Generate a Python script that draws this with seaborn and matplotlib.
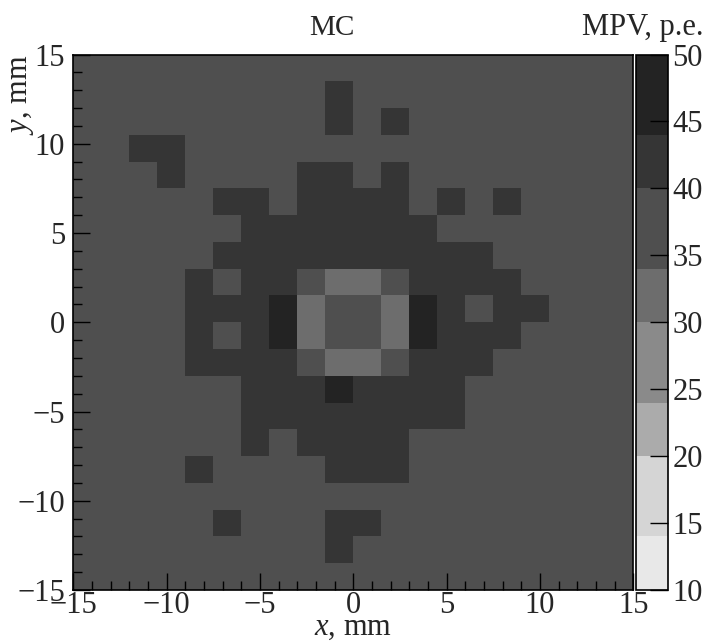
import numpy as np
import matplotlib
matplotlib.use("Agg")
import matplotlib.pyplot as plt
from matplotlib.colors import ListedColormap, BoundaryNorm
from matplotlib.ticker import FixedLocator
import seaborn as sns

# ---- data -------------------------------------------------------------
x_edges_mm = [-15.0, 15.0]          # axis range (20 bins of 1.5 mm)
y_edges_mm = [-15.0, 15.0]
n_bins = 20

bg = 37      # background MPV level
dk = 42      # dark cells
dd = 47      # darkest cells
lt = 32      # light cells

# (row index from top, list of (column, value)) for non-background cells
cells_row = {
    1: [(9, dk)],
    2: [(9, dk), (11, dk)],
    3: [(2, dk), (3, dk)],
    4: [(3, dk), (8, dk), (9, dk), (11, dk)],
    5: [(5, dk), (6, dk), (8, dk), (9, dk), (10, dk), (11, dk), (13, dk), (15, dk)],
    6: [(c, dk) for c in range(6, 13)],
    7: [(c, dk) for c in range(5, 15)],
    8: [(4, dk), (6, dk), (7, dk), (9, lt), (10, lt), (12, dk), (13, dk), (14, dk), (15, dk)],
    9: [(4, dk), (5, dk), (6, dk), (7, dd), (8, lt), (11, lt), (12, dd), (13, dk), (15, dk), (16, dk)],
    10: [(4, dk), (6, dk), (7, dd), (8, lt), (11, lt), (12, dd), (13, dk), (14, dk), (15, dk)],
    11: [(4, dk), (5, dk), (6, dk), (7, dk), (9, lt), (10, lt), (12, dk), (13, dk), (14, dk)],
    12: [(6, dk), (7, dk), (8, dk), (9, dd), (10, dk), (11, dk), (12, dk), (13, dk)],
    13: [(c, dk) for c in range(6, 14)],
    14: [(6, dk), (8, dk), (9, dk), (10, dk), (11, dk)],
    15: [(4, dk), (9, dk), (10, dk), (11, dk)],
    17: [(5, dk), (9, dk), (10, dk)],
    18: [(9, dk)],
}

levels = [10, 14, 20, 24, 30, 34, 40, 44, 50]
level_colors = ["#e8e8e8", "#d5d5d5", "#ababab", "#8a8a8a",
                "#6d6d6d", "#4f4f4f", "#353535", "#232323"]

major_ticks = [-15, -10, -5, 0, 5, 10, 15]
minor_ticks = list(range(-15, 16))
cbar_ticks = [10, 15, 20, 25, 30, 35, 40, 45, 50]

# ---- build grid -------------------------------------------------------
grid = np.full((n_bins, n_bins), float(bg))
for r, lst in cells_row.items():
    for c, v in lst:
        grid[r, c] = v

# ---- style ------------------------------------------------------------
sns.set_theme(style="white")
plt.rcParams["font.family"] = ["Liberation Serif", "DejaVu Serif"]
plt.rcParams["mathtext.fontset"] = "custom"
plt.rcParams["mathtext.it"] = "Liberation Serif:italic"
plt.rcParams["mathtext.rm"] = "Liberation Serif"

W, H = 708, 641
fig = plt.figure(figsize=(W / 100, H / 100), dpi=100)
ax_l, ax_r, ax_t, ax_b = 73.3, 633.3, 54.5, 590.0
ax = fig.add_axes([ax_l / W, 1 - ax_b / H, (ax_r - ax_l) / W, (ax_b - ax_t) / H])
cb_l, cb_r = 636.0, 668.3
cax = fig.add_axes([cb_l / W, 1 - ax_b / H, (cb_r - cb_l) / W, (ax_b - ax_t) / H])

cmap = ListedColormap(level_colors)
norm = BoundaryNorm(levels, cmap.N)

sns.heatmap(grid, ax=ax, cmap=cmap, norm=norm, cbar_ax=cax,
            xticklabels=False, yticklabels=False,
            cbar_kws={"spacing": "proportional", "ticks": cbar_ticks})

ax.set_axisbelow(False)
cax.set_axisbelow(False)

# mm -> heatmap cell coordinate
step = (x_edges_mm[1] - x_edges_mm[0]) / n_bins
def xpos(v):
    return (v - x_edges_mm[0]) / step
def ypos(v):
    return (y_edges_mm[1] - v) / step

def lab(v):
    return str(v).replace("-", "\u2212")

fs = 22
ax.set_xticks([xpos(v) for v in major_ticks])
ax.set_xticklabels([lab(v) for v in major_ticks], fontsize=fs)
ax.xaxis.set_minor_locator(FixedLocator([xpos(v) for v in minor_ticks]))
ax.set_yticks([ypos(v) for v in major_ticks])
ax.set_yticklabels([lab(v) for v in major_ticks], fontsize=fs, rotation=0)
ax.yaxis.set_minor_locator(FixedLocator([ypos(v) for v in minor_ticks]))

ax.tick_params(axis="both", which="major", direction="in", length=12, width=1.0,
               color="black", bottom=True, left=True, top=False, right=False)
ax.tick_params(axis="both", which="minor", direction="in", length=6.5, width=1.0,
               color="black", bottom=True, left=True, top=False, right=False)
ax.tick_params(axis="x", which="major", pad=1)
ax.tick_params(axis="y", which="major", pad=6)

for s in ax.spines.values():
    s.set_visible(True)
    s.set_color("black")
    s.set_linewidth(1.2)

ax.set_xlabel("$x$, mm", fontsize=fs, labelpad=-5)
ax.set_ylabel("$y$, mm", fontsize=fs, loc="top")
ax.yaxis.set_label_coords((36 - ax_l) / (ax_r - ax_l), 1.0)

cb = ax.collections[0].colorbar
cb.outline.set_linewidth(1.2)
cb.outline.set_edgecolor("black")
cax.tick_params(axis="y", which="major", direction="in", length=13, width=1.0,
                color="black", right=True, left=False, labelsize=fs, pad=3)
cax.tick_params(axis="y", which="minor", length=0)
cax.set_yticklabels([lab(v) for v in cbar_ticks])

fig.text(332 / W, 1 - 28 / H, "MC", ha="center", va="center", fontsize=21)
fig.text(704 / W, 1 - 28 / H, "MPV, p.e.", ha="right", va="center", fontsize=fs)

fig.savefig("out.png", dpi=100)
